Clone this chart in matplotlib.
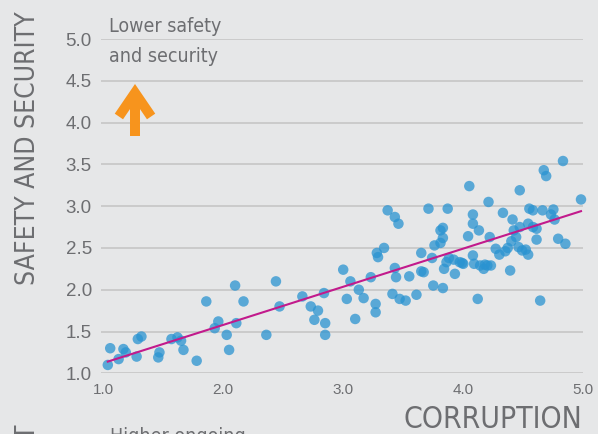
import matplotlib
matplotlib.use("Agg")
import matplotlib.pyplot as plt

# values
corruption = [1.04, 1.06, 1.13, 1.17, 1.19, 1.28, 1.29, 1.32, 1.46, 1.47,
              1.57, 1.62, 1.65, 1.67, 1.78, 1.86, 1.93, 1.96, 2.03, 2.05,
              2.10, 2.11, 2.17, 2.36, 2.44, 2.47, 2.66, 2.73, 2.79, 2.76,
              2.84, 2.85, 2.85, 3.00, 3.03, 3.06, 3.10, 3.13, 3.17, 3.23,
              3.27, 3.27, 3.28, 3.29, 3.34, 3.37, 3.43, 3.46, 3.43, 3.44,
              3.41, 3.47, 3.52, 3.55, 3.61, 3.65, 3.65, 3.67, 3.71, 3.74,
              3.76, 3.75, 3.81, 3.81, 3.83, 3.83, 3.83, 3.84, 3.87, 3.86,
              3.88, 3.92, 3.93, 3.97, 3.99, 4.00, 4.04, 4.05, 4.08, 4.08,
              4.08, 4.09, 4.12, 4.13, 4.14, 4.17, 4.18, 4.20, 4.22, 4.21,
              4.23, 4.27, 4.30, 4.33, 4.35, 4.37, 4.39, 4.41, 4.42, 4.40,
              4.44, 4.47, 4.47, 4.46, 4.49, 4.52, 4.54, 4.54, 4.55, 4.58,
              4.58, 4.61, 4.61, 4.64, 4.66, 4.67, 4.69, 4.73, 4.75, 4.76,
              4.79, 4.83, 4.85, 4.98]
safety = [1.10, 1.30, 1.17, 1.29, 1.25, 1.20, 1.41, 1.44, 1.19, 1.25,
          1.41, 1.43, 1.39, 1.28, 1.15, 1.86, 1.54, 1.62, 1.46, 1.28,
          2.05, 1.60, 1.86, 1.46, 2.10, 1.80, 1.92, 1.80, 1.75, 1.64,
          1.96, 1.60, 1.46, 2.24, 1.89, 2.10, 1.65, 2.00, 1.90, 2.15,
          1.83, 1.73, 2.44, 2.39, 2.50, 2.95, 2.87, 2.79, 2.26, 2.15,
          1.95, 1.89, 1.87, 2.16, 1.94, 2.44, 2.22, 2.21, 2.97, 2.38,
          2.53, 2.05, 2.56, 2.71, 2.74, 2.62, 2.02, 2.25, 2.97, 2.33,
          2.38, 2.36, 2.19, 2.33, 2.32, 2.31, 2.64, 3.24, 2.90, 2.79,
          2.41, 2.31, 1.89, 2.71, 2.29, 2.25, 2.30, 2.29, 2.63, 3.05,
          2.29, 2.49, 2.42, 2.92, 2.46, 2.50, 2.23, 2.84, 2.71, 2.58,
          2.63, 3.19, 2.75, 2.51, 2.47, 2.48, 2.42, 2.79, 2.97, 2.95,
          2.75, 2.73, 2.60, 1.87, 2.95, 3.43, 3.36, 2.90, 2.96, 2.84,
          2.61, 3.54, 2.55, 3.08]

trend_x = [1.04, 4.98]
trend_y = [1.14, 2.94]

x_ticks = [1.0, 2.0, 3.0, 4.0, 5.0]
y_ticks = [1.0, 1.5, 2.0, 2.5, 3.0, 3.5, 4.0, 4.5, 5.0]

BG = "#e6e7e8"
GREY = "#6d6e71"
BLUE = "#2a93d1"
PINK = "#c21a8c"
ORANGE = "#f7941d"
NARROW = dict(family=["DejaVu Sans"], stretch="condensed")
PLAIN = ["Liberation Sans", "DejaVu Sans"]

W, H = 598, 434


def fx(px):
    return px / W


def fy(py):
    return 1 - py / H


fig = plt.figure(figsize=(W / 100, H / 100), dpi=100, facecolor=BG)
ax = fig.add_axes([fx(101.2), fy(373.3), 482.2 / W, 334.3 / H], facecolor=BG)

ax.scatter(corruption, safety, s=57, color=BLUE, alpha=0.75,
           edgecolors="none", clip_on=False, zorder=3)
ax.plot(trend_x, trend_y, color=PINK, lw=1.5, zorder=4)

ax.set_xlim(0.985, 5.0)
ax.set_ylim(1, 5)
ax.set_xticks(x_ticks)
ax.set_xticklabels([f"{t:.1f}" for t in x_ticks], family=PLAIN,
                   fontsize=11, color=GREY)
ax.set_yticks(y_ticks)
ax.set_yticklabels([f"{t:.1f}" for t in y_ticks], family=PLAIN,
                   fontsize=13.5, color=GREY)
ax.tick_params(axis="x", length=0, pad=7)
ax.tick_params(axis="y", length=0, pad=6.8)
ax.grid(axis="y", color="#c6c6c6", lw=1.2)
ax.set_axisbelow(True)
for sp in ax.spines.values():
    sp.set_visible(False)

# axis titles
fig.text(fx(35), fy(285), "SAFETY AND SECURITY", rotation=90,
         rotation_mode="anchor", ha="left", va="baseline",
         fontsize=19, color=GREY, **NARROW)
fig.text(fx(582), fy(428), "CORRUPTION", ha="right", va="baseline",
         fontsize=21.6, color=GREY, **NARROW)

# annotation
fig.text(fx(109), fy(31.7), "Lower safety", ha="left", va="baseline",
         fontsize=14, color=GREY, **NARROW)
fig.text(fx(109), fy(61.7), "and security", ha="left", va="baseline",
         fontsize=14, color=GREY, **NARROW)
ax.annotate("", xy=(135, H - 84), xytext=(135, H - 136),
            xycoords="figure pixels", textcoords="figure pixels",
            arrowprops=dict(arrowstyle="->,head_length=0.85,head_width=0.58",
                            mutation_scale=20, color=ORANGE, lw=7.2,
                            shrinkA=0, shrinkB=0, joinstyle="miter",
                            capstyle="butt"))

# start of the next panel, cut off at the bottom edge
fig.text(fx(35), fy(425), "ONGOING CONFLICT", rotation=90,
         rotation_mode="anchor", ha="right", va="baseline",
         fontsize=19, color=GREY, **NARROW)
fig.text(fx(110), fy(442), "Higher ongoing", ha="left", va="baseline",
         fontsize=14, color=GREY, **NARROW)

fig.savefig("out.png", dpi=100, facecolor=BG)
